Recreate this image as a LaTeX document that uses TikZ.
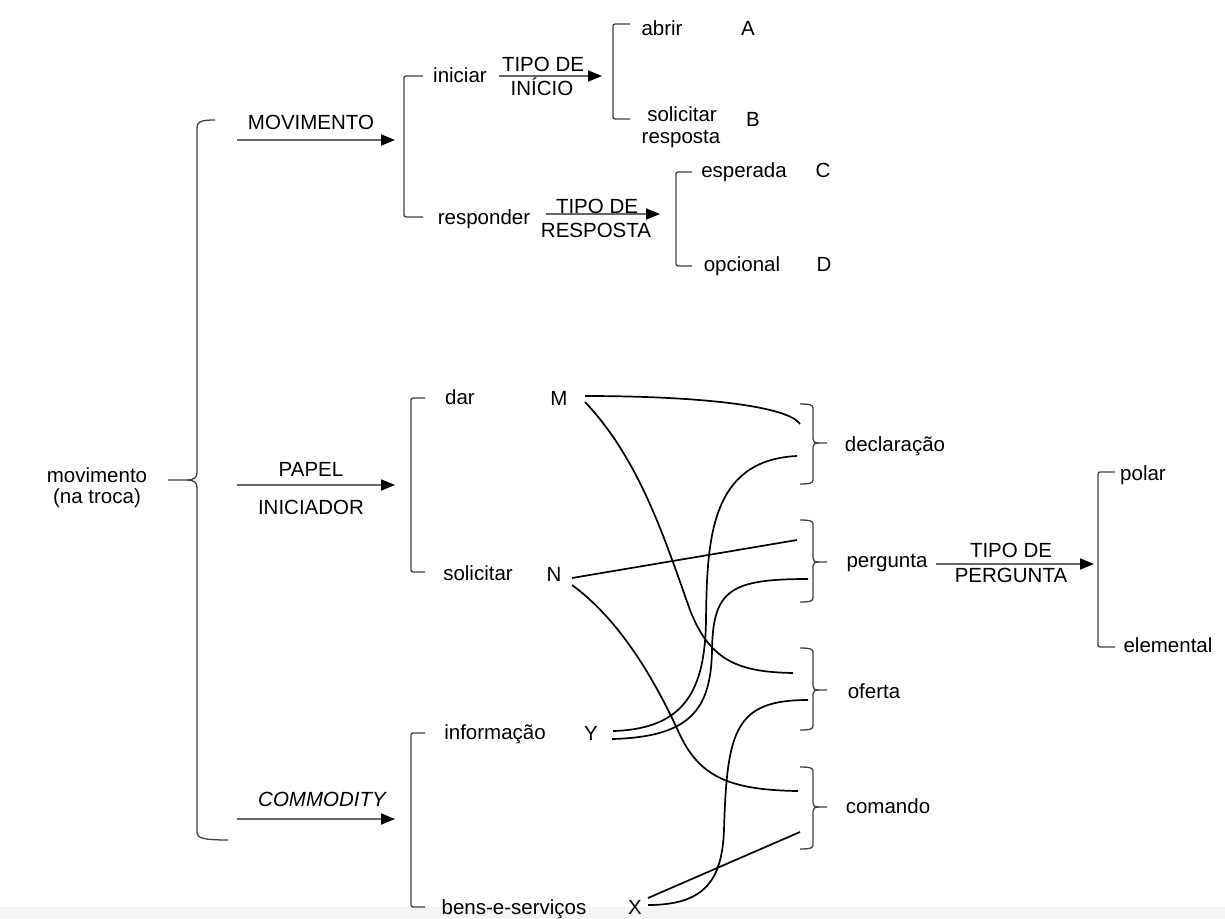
\documentclass[tikz,border=0pt]{standalone}
\usepackage{fontspec}
\setmainfont{Liberation Sans}
\usetikzlibrary{arrows.meta}
% closing brace "}" : top y, bottom y, tip y
\newcommand\closebrace[3]{%
  \draw[brk] (800,#1) .. controls (810,#1) and (813,#1+1) .. (813,#1+6) -- (813,#3-6)
    .. controls (813,#3-1) and (815,#3) .. (819,#3) -- (827,#3);
  \draw[brk] (819,#3) .. controls (815,#3) and (813,#3+1) .. (813,#3+6) -- (813,#2-6)
    .. controls (813,#2-1) and (810,#2) .. (800,#2);}
% square bracket "[" : x, top y, bottom y, tick end x
\newcommand\openbracket[4]{%
  \draw[brk] (#4,#2) -- (#1,#2) -- (#1,#3) -- (#4,#3);}
\begin{document}
\begin{tikzpicture}[x=1pt,y=-1pt,
  txt/.style={font=\fontsize{20.5}{23}\selectfont, inner sep=0pt, anchor=base},
  brk/.style={draw=black!75, line width=1.3pt, rounded corners=2pt},
  link/.style={draw=black, line width=1.7pt},
  arr/.style={draw=black!60, line width=1.8pt,
    -{Triangle[length=14pt,width=11pt,fill=black,color=black]}},
]
\useasboundingbox (0,0) rectangle (1225,918);
\fill[black!4] (0,907) rectangle (1225,918);

% ---------- root ----------
\node[txt] (root1) at (97,482) {movimento};
\node[txt] (root2) at (97,503) {(na troca)};
\draw[brk, rounded corners=0pt] (215,120) .. controls (200,120) and (197,122) .. (197,128) -- (197,473)
  .. controls (197,478) and (193,480) .. (187,480) -- (168,480);
\draw[brk, rounded corners=0pt] (187,480) .. controls (193,480) and (197,482) .. (197,487) -- (197,833)
  .. controls (197,838) and (204,840) .. (228,840);

% ---------- three system arrows ----------
\coordinate (a1s) at (237,140); \coordinate (a1e) at (395,140);
\coordinate (a2s) at (237,485); \coordinate (a2e) at (395,485);
\coordinate (a3s) at (237,819); \coordinate (a3e) at (395,819);
\draw[arr] (a1s) -- (a1e);
\draw[arr] (a2s) -- (a2e);
\draw[arr] (a3s) -- (a3e);
\node[txt] (lmov) at (311,129) {MOVIMENTO};
\node[txt] (lpap) at (311,476) {PAPEL};
\node[txt] (lini) at (311,514) {INICIADOR};
\node[txt] (lcom) at (322,806) {\itshape COMMODITY};

% ---------- MOVIMENTO system ----------
\openbracket{404}{76}{217}{423}
\node[txt] (iniciar) at (460,82) {iniciar};
\node[txt] (responder) at (484,224) {responder};
\coordinate (b1s) at (499,76); \coordinate (b1e) at (602,76);
\draw[arr] (b1s) -- (b1e);
\node[txt] (tipoini1) at (543,71) {TIPO DE};
\node[txt] (tipoini2) at (542,95) {INÍCIO};
\coordinate (b2s) at (546,214); \coordinate (b2e) at (660,214);
\draw[arr] (b2s) -- (b2e);
\node[txt] (tiporesp1) at (597,213) {TIPO DE};
\node[txt] (tiporesp2) at (596,237) {RESPOSTA};

\openbracket{613}{24}{119}{630}
\node[txt] (abrir) at (662,35) {abrir};
\node[txt] (A) at (748,35) {A};
\node[txt] (solic1) at (682,121) {solicitar};
\node[txt] (solic2) at (681,143) {resposta};
\node[txt] (B) at (753,126) {B};

\openbracket{676}{172}{266}{692}
\node[txt] (esperada) at (744,177) {esperada};
\node[txt] (C) at (823,177) {C};
\node[txt] (opcional) at (742,271) {opcional};
\node[txt] (D) at (824,271) {D};

% ---------- PAPEL and COMMODITY systems ----------
\openbracket{411}{398}{572}{425}
\node[txt] (dar) at (460,404) {dar};
\node[txt] (M) at (559,405) {M};
\node[txt] (solicitar) at (478,580) {solicitar};
\node[txt] (N) at (554,581) {N};

\openbracket{411}{733}{907}{425}
\node[txt] (informacao) at (495,739) {informação};
\node[txt] (Y) at (591,740) {Y};
\node[txt] (bens) at (514,914) {bens-e-serviços};
\node[txt] (X) at (635,914) {X};

% ---------- speech functions ----------
\closebrace{404}{484}{443}
\closebrace{520}{602}{562}
\closebrace{648}{730}{690}
\closebrace{767}{849}{807}
\node[txt] (declaracao) at (895,451) {declaração};
\node[txt] (pergunta) at (887,567) {pergunta};
\node[txt] (oferta) at (874,698) {oferta};
\node[txt] (comando) at (888,813) {comando};

% ---------- crossing links ----------
\coordinate (m1) at (585,396); \coordinate (m2) at (585,402);
\coordinate (n1) at (572,578); \coordinate (n2) at (572,585);
\coordinate (y1) at (613,731); \coordinate (y2) at (612,739);
\coordinate (x1) at (648,898); \coordinate (x2) at (648,905);
\coordinate (dec1) at (800,424); \coordinate (dec2) at (797,456);
\coordinate (per1) at (797,540); \coordinate (per2) at (808,579);
\coordinate (ofe1) at (793,673); \coordinate (ofe2) at (808,700);
\coordinate (com1) at (798,791); \coordinate (com2) at (800,832);

\draw[link] (m1) .. controls (700,396) and (788,406) .. (dec1);
\draw[link] (m2) .. controls (640,460) and (665,540) .. (690,610)
  .. controls (710,662) and (740,672) .. (ofe1);
\draw[link] (n1) -- (per1);
\draw[link] (n2) .. controls (620,620) and (655,680) .. (680,735)
  .. controls (700,777) and (730,790) .. (com1);
\draw[link] (y1) .. controls (685,729) and (705,690) .. (706,620)
  .. controls (707,540) and (710,460) .. (dec2);
\draw[link] (y2) .. controls (690,737) and (711,710) .. (712,650)
  .. controls (713,590) and (730,579) .. (per2);
\draw[link] (x2) .. controls (705,905) and (722,880) .. (724,830)
  .. controls (727,730) and (735,700) .. (ofe2);
\draw[link] (x1) -- (com2);

% ---------- TIPO DE PERGUNTA ----------
\coordinate (c1s) at (936,564); \coordinate (c1e) at (1094,564);
\draw[arr] (c1s) -- (c1e);
\node[txt] (tipoperg1) at (1011,557) {TIPO DE};
\node[txt] (tipoperg2) at (1011,582) {PERGUNTA};
\openbracket{1098}{472}{647}{1115}
\node[txt] (polar) at (1143,480) {polar};
\node[txt] (elemental) at (1168,652) {elemental};
\end{tikzpicture}
\end{document}
